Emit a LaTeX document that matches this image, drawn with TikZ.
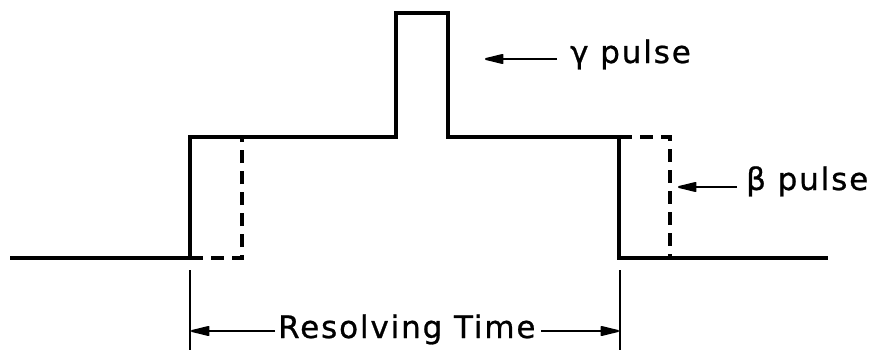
\documentclass[tikz,border=0pt]{standalone}
\usepackage{fontspec}
\setmainfont{DejaVu Sans}
\newfontfamily\labfont[LetterSpace=6,FakeBold=0.8]{DejaVu Sans}
\usetikzlibrary{arrows.meta}
\begin{document}
\begin{tikzpicture}[x=1pt,y=-1pt,
  pulse/.style={line width=4.2pt,line join=miter},
  dashpulse/.style={line width=3.6pt,dash pattern=on 13pt off 8pt},
  thin/.style={line width=2pt},
  headtip/.tip={Triangle[length=22pt,width=10pt,round]},
  arr/.style={line width=2pt,-headtip},
  lab/.style={font=\labfont\fontsize{31}{36}\selectfont,inner sep=0pt,anchor=base west}]
\useasboundingbox (0,0) rectangle (873,356);
% waveform corners
\coordinate (a0) at (10,258);
\coordinate (a1) at (190,258);
\coordinate (a2) at (190,137);
\coordinate (g1) at (396,137);
\coordinate (g2) at (396,13);
\coordinate (g3) at (448,13);
\coordinate (g4) at (448,137);
\coordinate (b1) at (619,137);
\coordinate (b2) at (619,258);
\coordinate (a3) at (828,258);
\draw[pulse] (a0) -- (a1) -- (a2) -- (g1) -- (g2) -- (g3) -- (g4) -- (b1) -- (b2) -- (a3);
% beta pulse (dashed)
\coordinate (d1) at (242,258);
\coordinate (d2) at (242,137);
\coordinate (e1) at (670,137);
\coordinate (e2) at (670,258);
\draw[dashpulse] (a1) -- (d1) -- (d2);
\draw[dashpulse] (b1) -- (e1) -- (e2);
% labels
\node[lab] (glab) at (570,63) {γ pulse};
\node[lab] (blab) at (746,190) {β pulse};
\coordinate (gs) at (557,59);
\coordinate (gt) at (485,59);
\coordinate (bs) at (737,187);
\coordinate (bt) at (678,187);
\draw[arr] (gs) -- (gt);
\draw[arr] (bs) -- (bt);
% resolving time
\coordinate (t1a) at (190,270);
\coordinate (t1b) at (190,350);
\coordinate (t2a) at (620,270);
\coordinate (t2b) at (620,350);
\draw[thin] (t1a) -- (t1b);
\draw[thin] (t2a) -- (t2b);
\node[lab] (rlab) at (278,338) {Resolving Time};
\coordinate (rl) at (275,331);
\coordinate (rr) at (541,331);
\coordinate (rlt) at (191,331);
\coordinate (rrt) at (619,331);
\draw[arr] (rl) -- (rlt);
\draw[arr] (rr) -- (rrt);
\end{tikzpicture}
\end{document}
